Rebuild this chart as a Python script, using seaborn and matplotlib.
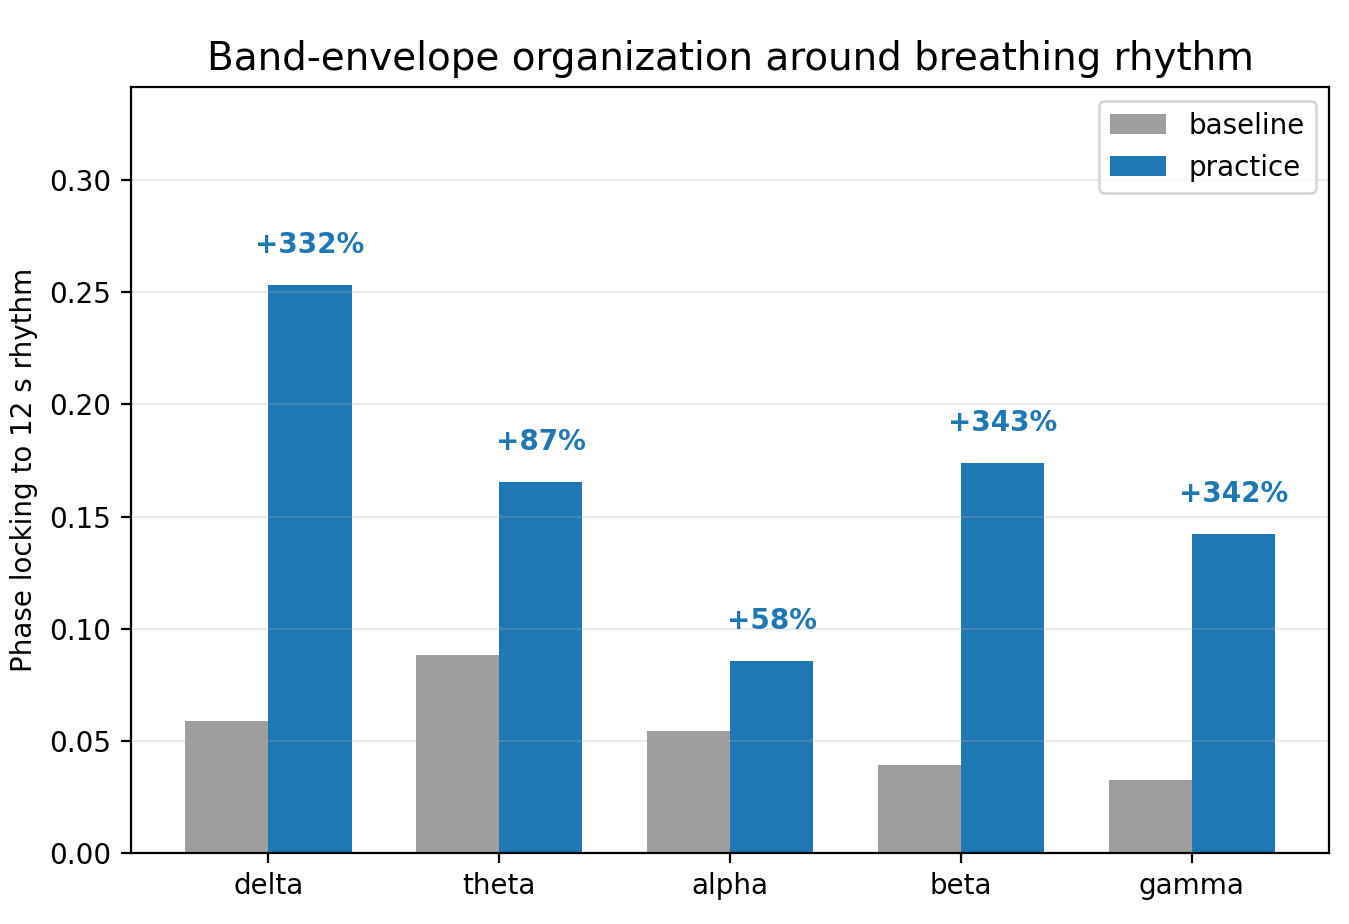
import pandas as pd
import matplotlib.pyplot as plt
import seaborn as sns

# values
bands = ['delta', 'theta', 'alpha', 'beta', 'gamma']
baseline = [0.0589, 0.0884, 0.0545, 0.0393, 0.0326]
practice = [0.2531, 0.1656, 0.0857, 0.1741, 0.1424]
change_labels = ['+332%', '+87%', '+58%', '+343%', '+342%']

df = pd.DataFrame({
    'band': bands * 2,
    'value': baseline + practice,
    'condition': ['baseline'] * len(bands) + ['practice'] * len(bands),
})

palette = {'baseline': '#9e9e9e', 'practice': '#1f77b4'}

fig, ax = plt.subplots(figsize=(6.745, 4.62), dpi=200)
sns.barplot(data=df, x='band', y='value', hue='condition', palette=palette,
            width=0.72, saturation=1, gap=0, ax=ax)

ymax = max(practice) * 1.35
ax.set_ylim(0, ymax)
ax.set_xlim(-0.596, len(bands) - 1 + 0.596)

# percent change above the practice bars
for i, (v, lab) in enumerate(zip(practice, change_labels)):
    ax.text(i + 0.18, v + ymax * 0.034, lab, ha='center', va='bottom',
            fontsize=10, fontweight='bold', color='#1f77b4')

ax.set_title('Band-envelope organization around breathing rhythm', fontsize=14)
ax.set_xlabel('')
ax.set_ylabel('Phase locking to 12 s rhythm', fontsize=10)
ax.yaxis.grid(True, alpha=0.25)
ax.legend(loc='upper right', fontsize=10, title=None)

fig.subplots_adjust(left=0.097, right=0.9855, top=0.906, bottom=0.077)
fig.savefig('out.png', dpi=200)
